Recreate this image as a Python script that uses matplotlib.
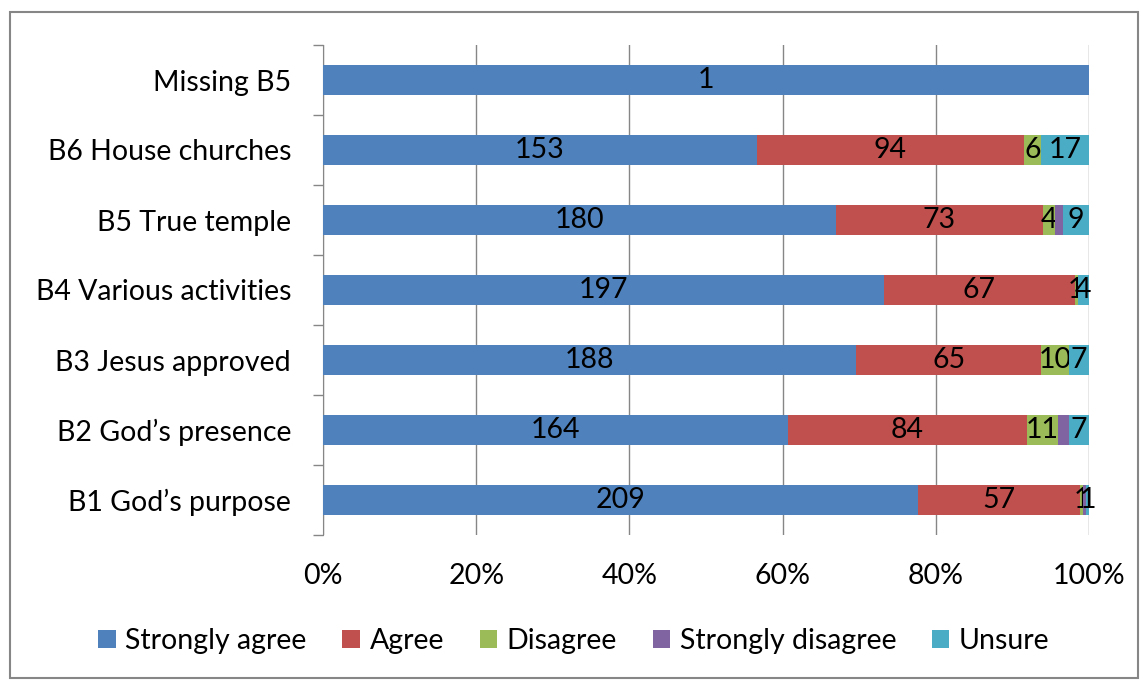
import numpy as np
import matplotlib.pyplot as plt
from matplotlib.patches import Rectangle

# categories bottom -> top
cats = ['B1 God\u2019s purpose', 'B2 God\u2019s presence', 'B3 Jesus approved',
        'B4 Various activities', 'B5 True temple', 'B6 House churches', 'Missing B5']
series = ['Strongly agree', 'Agree', 'Disagree', 'Strongly disagree', 'Unsure']
strongly_agree = [209, 164, 188, 197, 180, 153, 1]
agree = [57, 84, 65, 67, 73, 94, 0]
disagree = [1, 11, 10, 1, 4, 6, 0]
strongly_disagree = [1, 4, 0, 0, 3, 0, 0]
unsure = [1, 7, 7, 4, 9, 17, 0]
colors = ['#4F81BD', '#C0504D', '#9BBB59', '#8064A2', '#4BACC6']
show_labels = [True, True, True, False, True]

plt.rcParams['font.family'] = ['Lato', 'DejaVu Sans']
fs = 20.5

data = np.array([strongly_agree, agree, disagree, strongly_disagree, unsure], dtype=float)
tot = data.sum(axis=0)
pct = data / tot * 100

fig = plt.figure(figsize=(11.48, 6.84), dpi=100)
ax = fig.add_axes([323/1148, 1-535/684, (1089-323)/1148, 490/684])

y = np.arange(len(cats))
left = np.zeros(len(cats))
for i, s in enumerate(series):
    bars = ax.barh(y, pct[i], left=left, height=0.42, color=colors[i], label=s, zorder=3)
    if show_labels[i]:
        labs = [str(int(v)) if v > 0 else '' for v in data[i]]
        ax.bar_label(bars, labels=labs, label_type='center', fontsize=fs, color='black')
    left += pct[i]

ax.set_xlim(0, 100)
ax.set_ylim(-0.5, len(cats) - 0.5)
ax.set_xticks(np.arange(0, 101, 20))
ax.set_xticklabels([f'{v}%' for v in range(0, 101, 20)], fontsize=fs)
ax.set_yticks(y)
ax.set_yticklabels(cats, fontsize=fs)
ax.set_yticks(np.arange(-0.5, len(cats)), minor=True)
ax.tick_params(axis='y', which='major', length=0, pad=23)
ax.tick_params(axis='y', which='minor', length=7, color='#868686', width=1)
ax.tick_params(axis='x', length=0, pad=20)
ax.grid(axis='x', color='#868686', linewidth=1, zorder=0)
for sp in ['top', 'right', 'bottom']:
    ax.spines[sp].set_visible(False)
ax.spines['left'].set_color('#868686')

fig.legend(loc='center', bbox_to_anchor=(0.5, 1-641/684), ncol=5, frameon=False,
           fontsize=fs, handlelength=0.6, handleheight=0.6, columnspacing=1.25, handletextpad=0.35)

fig.patches.append(Rectangle((10/1148, 1-678/684), 1128/1148, 666/684, transform=fig.transFigure,
                             fill=False, edgecolor='#868686', linewidth=1.5))

fig.savefig('out.png', dpi=100)
